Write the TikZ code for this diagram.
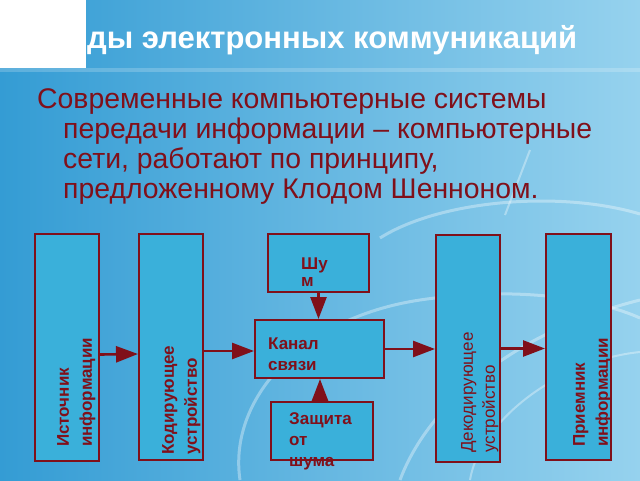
\documentclass[tikz,border=0pt]{standalone}
\usepackage{fontspec}
\setmainfont{Liberation Sans}
\usetikzlibrary{arrows.meta}
\definecolor{slideleft}{RGB}{52,156,212}
\definecolor{slideright}{RGB}{150,210,238}
\definecolor{blockfill}{RGB}{58,176,218}
\definecolor{shannonred}{RGB}{128,16,26}

\tikzset{
  blk/.style={draw=shannonred, line width=2pt, fill=blockfill, inner sep=0pt},
  arr/.style={shannonred, line width=2.6pt, -{Triangle[length=22pt,width=16pt]}},
  vlabel/.style={rotate=90, anchor=north west, align=left, inner sep=0pt,
    text=shannonred, font=\bfseries\fontsize{17}{23}\selectfont},
  hlabel/.style={anchor=north west, align=left, inner sep=0pt,
    text=shannonred, font=\bfseries\fontsize{17}{21}\selectfont},
  glow/.style={white, opacity=.35, line width=3pt}
}

\begin{document}
\begin{tikzpicture}[x=1pt,y=-1pt]
  \useasboundingbox (0,0) rectangle (640,480);
  % background
  \shade[left color=slideleft, right color=slideright] (0,0) rectangle (640,480);
  \fill[white, opacity=.2] (0,68) rectangle (640,72);
  \draw[glow] (240,480) .. controls (228,400) and (300,318) .. (420,300);
  \draw[glow] (420,300) .. controls (520,285) and (600,300) .. (640,318);
  \draw[glow] (380,238) .. controls (440,200) and (560,190) .. (640,214);
  \draw[glow] (400,480) .. controls (430,400) and (520,330) .. (640,300);
  \draw[glow, line width=2pt] (470,480) .. controls (480,420) and (560,360) .. (640,352);
  \draw[glow, line width=2pt] (505,215) -- (530,150);
  \fill[white] (0,0) rectangle (86,68);

  % title and text
  \node[anchor=base west, inner sep=0pt, text=white,
    font=\bfseries\fontsize{31}{34}\selectfont] (title) at (87,48)
    {ды электронных коммуникаций};
  \node[anchor=north west, align=left, inner sep=0pt, text=shannonred,
    font=\fontsize{28.4}{30}\selectfont] (intro) at (37,88.7)
    {Современные компьютерные системы\\
     \hspace*{26pt}передачи информации – компьютерные\\
     \hspace*{26pt}сети, работают по принципу,\\
     \hspace*{26pt}предложенному Клодом Шенноном.};

  % blocks
  \node[blk, minimum width=64pt, minimum height=227pt] (src) at (67,347.5) {};
  \node[blk, minimum width=64pt, minimum height=226pt] (coder) at (171,347) {};
  \node[blk, minimum width=101pt, minimum height=58pt] (noise) at (318.5,263) {};
  \node[blk, minimum width=129pt, minimum height=58pt] (chan) at (319.5,349) {};
  \node[blk, minimum width=102pt, minimum height=58pt] (guard) at (322,431) {};
  \node[blk, minimum width=64pt, minimum height=227pt] (dec) at (468,348.5) {};
  \node[blk, minimum width=65pt, minimum height=226pt] (recv) at (578.5,347) {};

  % labels
  \node[vlabel] (srcText) at (57,447) {Источник\\информации};
  \node[vlabel] (coderText) at (162,455) {Кодирующее\\устройство};
  \node[vlabel, font=\fontsize{17}{22}\selectfont] (decText) at (461,453)
    {Декодирующее\\устройство};
  \node[vlabel] (recvText) at (573,447) {Приемник\\информации};
  \node[hlabel] (noiseText) at (301,258) {Шу\\[-4pt]м};
  \node[hlabel] (chanText) at (268,338) {Канал\\связи};
  \node[hlabel] (guardText) at (289,412) {Защита\\от\\шума};

  % arrows
  \draw[arr] ([yshift=-7pt]src.east) -- ([yshift=-7pt]coder.west);
  \draw[arr] ([yshift=-4pt]coder.east) -- ([yshift=-2pt]chan.west);
  \draw[arr] (chan.east) -- (chan.east -| dec.west);
  \draw[arr] (dec.east) -- (dec.east -| recv.west);
  \draw[arr] (noise.south) -- (noise.south |- chan.north);
  \draw[arr] ([xshift=-2pt]guard.north) -- ([xshift=-2pt]guard.north |- chan.south);
\end{tikzpicture}
\end{document}
